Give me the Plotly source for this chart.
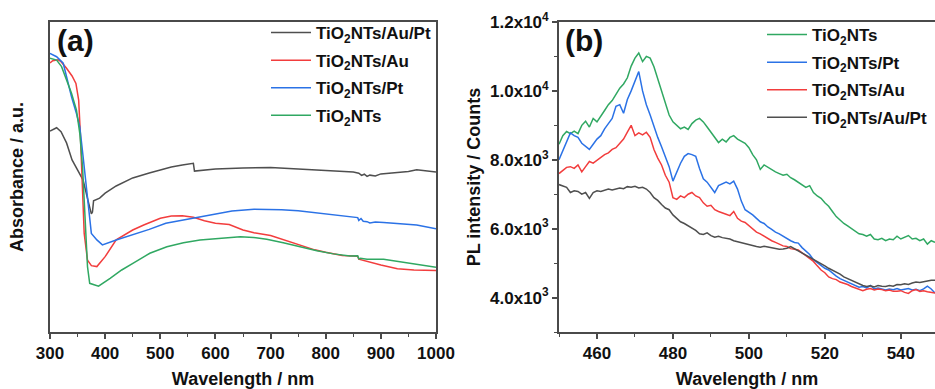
import plotly.graph_objects as go

# ---------------- Panel (a): UV-Vis absorbance (a.u.) ----------------
abs_black_x = [300, 312, 320, 330, 340, 350, 360, 370, 375, 377, 379, 390, 400, 420, 450, 480, 500, 520, 540, 560, 562,
               600, 650, 700, 750, 800, 850, 860, 865, 870, 875, 880, 890, 900, 950, 965, 1000]
abs_black_y = [0.648, 0.659, 0.646, 0.610, 0.555, 0.523, 0.490, 0.416, 0.381, 0.387, 0.423, 0.432, 0.448, 0.471, 0.497,
               0.513, 0.523, 0.532, 0.539, 0.544, 0.519, 0.526, 0.529, 0.531, 0.526, 0.521, 0.516, 0.512, 0.505, 0.509,
               0.502, 0.506, 0.503, 0.510, 0.518, 0.523, 0.516]

abs_red_x = [300, 305, 315, 320, 330, 340, 347, 352, 355, 358, 362, 368, 375, 385, 400, 420, 450, 470, 500, 520, 540, 560,
             580, 600, 625, 650, 670, 700, 725, 750, 780, 800, 830, 850, 858, 860, 875, 900, 930, 960, 1000]
abs_red_y = [0.868, 0.875, 0.878, 0.872, 0.851, 0.826, 0.802, 0.748, 0.641, 0.480, 0.318, 0.232, 0.214, 0.211, 0.243,
             0.297, 0.329, 0.345, 0.367, 0.374, 0.375, 0.370, 0.359, 0.351, 0.347, 0.329, 0.320, 0.311, 0.297, 0.281,
             0.265, 0.257, 0.247, 0.245, 0.244, 0.235, 0.227, 0.216, 0.204, 0.200, 0.198]

abs_blue_x = [300, 312, 324, 330, 339, 348, 354, 360, 370, 375, 385, 395, 420, 450, 480, 510, 540, 570, 600, 630, 670, 700,
              720, 750, 780, 810, 845, 858, 860, 864, 868, 875, 880, 890, 905, 935, 965, 1000]
abs_blue_y = [0.899, 0.888, 0.867, 0.824, 0.759, 0.705, 0.662, 0.566, 0.404, 0.318, 0.297, 0.281, 0.297, 0.313, 0.331,
              0.351, 0.361, 0.370, 0.381, 0.390, 0.396, 0.396, 0.394, 0.391, 0.385, 0.381, 0.372, 0.369, 0.360, 0.366,
              0.357, 0.356, 0.352, 0.355, 0.353, 0.348, 0.345, 0.333]

abs_green_x = [300, 312, 321, 330, 339, 348, 354, 359, 363, 368, 372, 380, 388, 409, 430, 451, 481, 512, 542, 572, 602,
               645, 669, 693, 723, 753, 784, 814, 844, 858, 860, 863, 875, 905, 935, 965, 1000]
abs_green_y = [0.883, 0.877, 0.856, 0.813, 0.770, 0.716, 0.641, 0.533, 0.372, 0.211, 0.157, 0.153, 0.148, 0.173, 0.200,
               0.222, 0.254, 0.275, 0.288, 0.297, 0.302, 0.307, 0.305, 0.299, 0.288, 0.275, 0.262, 0.252, 0.245, 0.246,
               0.236, 0.238, 0.235, 0.235, 0.227, 0.219, 0.209]

# ---------------- Panel (b): PL spectra (counts) ----------------
pl_x = list(range(450, 550))
pl_green = [8450, 8700, 8820, 8760, 8830, 8760, 9000, 9120, 8950, 9200,
            9100, 9250, 9430, 9600, 9720, 9900, 10080, 10200, 10380, 10720,
            10950, 11100, 10850, 11000, 10950, 10700, 10350, 9980, 9650, 9300,
            9100, 9000, 8900, 8950, 8880, 9050, 9150, 9200, 9100, 8950,
            8800, 8650, 8500, 8600, 8520, 8650, 8700, 8600, 8550, 8480,
            8350, 8150, 8000, 7720, 7850, 7780, 7700, 7650, 7600, 7550,
            7580, 7480, 7420, 7350, 7280, 7200, 7250, 7050, 6950, 6880,
            6750, 6650, 6500, 6350, 6250, 6150, 6080, 6000, 5920, 5850,
            5830, 5780, 5830, 5700, 5680, 5720, 5650, 5700, 5680, 5780,
            5700, 5740, 5800, 5700, 5720, 5650, 5700, 5550, 5650, 5600]
pl_blue = [8000, 8250, 8550, 8780, 8700, 8650, 8480, 8380, 8300, 8450,
           8600, 8700, 8900, 9050, 9200, 9550, 9600, 9350, 9750, 10000,
           10300, 10560, 10000, 9600, 9300, 8950, 8650, 8380, 8100, 7800,
           7380, 7650, 7900, 8100, 8180, 8150, 8100, 7750, 7450, 7350,
           7200, 7050, 7250, 7300, 7350, 7300, 7380, 7150, 6800, 6550,
           6480, 6400, 6300, 6200, 6150, 6050, 5980, 5900, 5850, 5780,
           5700, 5650, 5600, 5580, 5450, 5350, 5250, 5100, 5020, 4950,
           4850, 4800, 4700, 4620, 4550, 4500, 4450, 4380, 4350, 4300,
           4320, 4280, 4350, 4250, 4280, 4240, 4220, 4250, 4230, 4260,
           4220, 4240, 4260, 4220, 4240, 4200, 4250, 4330, 4250, 4130]
pl_red = [7600, 7700, 7780, 7800, 7750, 7850, 7650, 7800, 7950, 7900,
          7980, 8050, 8150, 8200, 8300, 8350, 8480, 8600, 8800, 9000,
          8700, 8780, 8720, 8800, 8650, 8300, 8050, 7850, 7550, 7350,
          6900, 6850, 6950, 6900, 7000, 7050, 6950, 6900, 6750, 6650,
          6680, 6550, 6500, 6450, 6420, 6380, 6500, 6300, 6220, 6180,
          6080, 6000, 5900, 5850, 5780, 5720, 5650, 5600, 5550, 5500,
          5480, 5420, 5400, 5380, 5300, 5220, 5150, 5050, 4920, 4800,
          4720, 4600, 4550, 4520, 4450, 4420, 4380, 4320, 4280, 4250,
          4200, 4240, 4260, 4220, 4250, 4230, 4200, 4220, 4180, 4180,
          4200, 4150, 4120, 4200, 4230, 4180, 4200, 4170, 4150, 4130]
pl_black = [7280, 7250, 7200, 7050, 7100, 7080, 7000, 7050, 6880, 7050,
            7100, 7080, 7120, 7150, 7120, 7150, 7180, 7160, 7220, 7200,
            7230, 7180, 7200, 7150, 7050, 6900, 6820, 6700, 6600, 6550,
            6400, 6300, 6200, 6150, 6080, 6000, 5950, 5850, 5830, 5880,
            5800, 5750, 5780, 5740, 5720, 5700, 5650, 5620, 5580, 5560,
            5520, 5500, 5480, 5460, 5490, 5470, 5450, 5440, 5400, 5410,
            5430, 5480, 5420, 5350, 5300, 5230, 5180, 5120, 5050, 5000,
            4920, 4850, 4800, 4750, 4680, 4600, 4550, 4480, 4430, 4380,
            4350, 4320, 4340, 4310, 4350, 4330, 4320, 4350, 4330, 4380,
            4370, 4400, 4380, 4420, 4450, 4440, 4470, 4480, 4500, 4500]

pl_tickvals = [4000, 6000, 8000, 10000, 12000]
pl_ticktext = ["4.0x10<sup>3</sup>", "6.0x10<sup>3</sup>", "8.0x10<sup>3</sup>",
               "1.0x10<sup>4</sup>", "1.2x10<sup>4</sup>"]

name_aupt = "TiO<sub>2</sub>NTs/Au/Pt"
name_au = "TiO<sub>2</sub>NTs/Au"
name_pt = "TiO<sub>2</sub>NTs/Pt"
name_nt = "TiO<sub>2</sub>NTs"

C_BLACK = "#4f4f4f"
C_RED = "#f23d3d"
C_BLUE = "#2b72e6"
C_GREEN = "#30a862"

FONT = "Liberation Sans"
W, H = 935, 389

fig = go.Figure()

for x, y, n, c, g in [(abs_black_x, abs_black_y, name_aupt, C_BLACK, "a1"),
                      (abs_red_x, abs_red_y, name_au, C_RED, "a2"),
                      (abs_blue_x, abs_blue_y, name_pt, C_BLUE, "a3"),
                      (abs_green_x, abs_green_y, name_nt, C_GREEN, "a4")]:
    fig.add_trace(go.Scatter(x=x, y=y, name=n, mode="lines", line=dict(color=c, width=1.5),
                             xaxis="x", yaxis="y", legend="legend", legendgroup=g))

for y, n, c, g in [(pl_green, name_nt, C_GREEN, "b1"),
                   (pl_blue, name_pt, C_BLUE, "b2"),
                   (pl_red, name_au, C_RED, "b3"),
                   (pl_black, name_aupt, C_BLACK, "b4")]:
    fig.add_trace(go.Scatter(x=pl_x, y=y, name=n, mode="lines", line=dict(color=c, width=1.5),
                             xaxis="x2", yaxis="y2", legend="legend2", legendgroup=g))

AX = "#4a4a4a"
ydom = [(H - 332) / H, (H - 22) / H]
tickfont = dict(family=FONT, size=17, color="#111111", weight="bold")
titlefont = dict(family=FONT, size=18, color="#111111", weight="bold")
legfont = dict(family=FONT, size=17, color="#111111", weight="bold")

fig.update_layout(
    width=W, height=H,
    margin=dict(l=0, r=0, t=0, b=0, autoexpand=False),
    paper_bgcolor="white", plot_bgcolor="white",
    font=dict(family=FONT, color="#111111"),
    xaxis=dict(domain=[50 / W, 436 / W], range=[300, 1000], anchor="y", automargin=False,
               tickvals=[300, 400, 500, 600, 700, 800, 900, 1000],
               ticks="outside", ticklen=5, tickwidth=1.5, tickcolor=AX,
               minor=dict(tickvals=[350, 450, 550, 650, 750, 850, 950], ticks="outside", ticklen=3, tickwidth=1.2, tickcolor=AX),
               showline=True, linecolor=AX, linewidth=1.8, mirror=True,
               showgrid=False, zeroline=False, tickfont=tickfont,
               title=dict(text="Wavelength / nm", font=titlefont, standoff=14)),
    yaxis=dict(domain=ydom, range=[0, 1], anchor="x", automargin=False,
               showticklabels=False, ticks="",
               showline=True, linecolor=AX, linewidth=1.8, mirror=True,
               showgrid=False, zeroline=False,
               title=dict(text="Absorbance / a.u.", font=titlefont, standoff=20)),
    xaxis2=dict(domain=[559 / W, 1.0], range=[450, 549], anchor="y2", automargin=False,
                tickvals=[460, 480, 500, 520, 540],
                ticks="outside", ticklen=5, tickwidth=1.5, tickcolor=AX,
                minor=dict(tickvals=[450, 470, 490, 510, 530], ticks="outside", ticklen=3, tickwidth=1.2, tickcolor=AX),
                showline=True, linecolor=AX, linewidth=1.8, mirror=True,
                showgrid=False, zeroline=False, tickfont=tickfont,
                title=dict(text="Wavelength / nm", font=titlefont, standoff=14)),
    yaxis2=dict(domain=ydom, range=[3000, 12000], anchor="x2", automargin=False,
                tickvals=pl_tickvals, ticktext=pl_ticktext,
                ticks="outside", ticklen=5, tickwidth=1.5, tickcolor=AX,
                minor=dict(tickvals=[3000, 5000, 7000, 9000, 11000], ticks="outside", ticklen=3, tickwidth=1.2, tickcolor=AX),
                showline=True, linecolor=AX, linewidth=1.8, mirror=True,
                showgrid=False, zeroline=False, tickfont=tickfont,
                title=dict(text="PL intensity / Counts", font=titlefont, standoff=5)),
    legend=dict(x=266 / W, y=1 - 15 / H, xanchor="left", yanchor="top", itemwidth=40,
                bgcolor="rgba(0,0,0,0)", borderwidth=0, tracegroupgap=2.5, font=legfont),
    legend2=dict(x=762 / W, y=1 - 17 / H, xanchor="left", yanchor="top", itemwidth=40,
                 bgcolor="rgba(0,0,0,0)", borderwidth=0, tracegroupgap=2.5, font=legfont),
    showlegend=True,
    annotations=[
        dict(text="(a)", x=55 / W, y=1 - 22 / H, xref="paper", yref="paper", xanchor="left", yanchor="top",
             showarrow=False, font=dict(family=FONT, size=30, color="#111111", weight="bold")),
        dict(text="(b)", x=563 / W, y=1 - 22 / H, xref="paper", yref="paper", xanchor="left", yanchor="top",
             showarrow=False, font=dict(family=FONT, size=30, color="#111111", weight="bold")),
    ],
)

fig.write_html("out.html", config={"displayModeBar": False},
               post_script="document.body.style.margin='0px';document.body.style.overflow='hidden';")
